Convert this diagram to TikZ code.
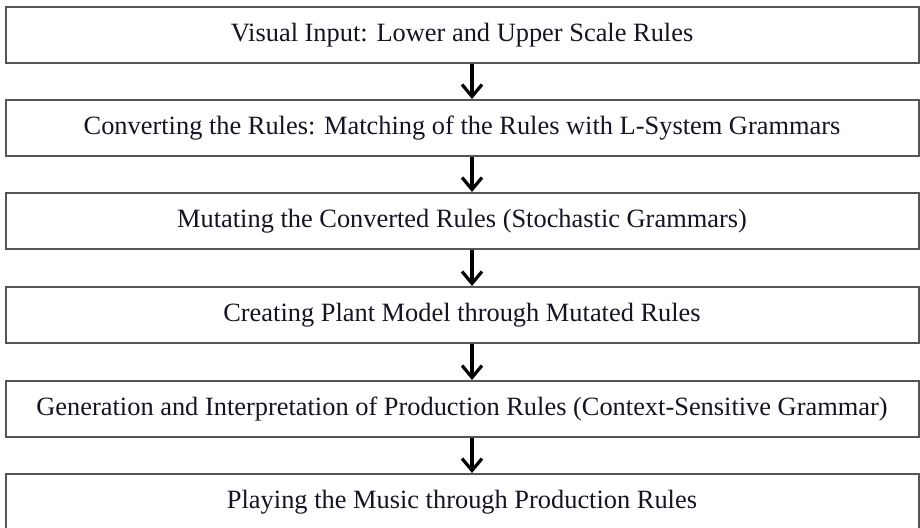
\documentclass[tikz,border=0pt]{standalone}
\usepackage{fontspec}
\setmainfont{Liberation Serif}
\usetikzlibrary{arrows.meta,calc}
\definecolor{boxline}{RGB}{85,85,85}
\definecolor{labeltext}{RGB}{20,20,35}
\tikzset{
  stage/.style={draw=boxline, line width=2pt, minimum width=913pt, minimum height=56pt,
    inner sep=0pt, text=labeltext, font=\fontsize{26.4}{30}\selectfont, anchor=center},
  flow/.style={line width=3.2pt, -{Straight Barb[length=12pt,width=20pt,line width=3.2pt]}}
}
\begin{document}
\begin{tikzpicture}[x=1pt,y=-1pt]
  \useasboundingbox (0,0) rectangle (920,527);
  \node[stage] (s1) at (462,35)  {Visual Input: Lower and Upper Scale Rules};
  \node[stage] (s2) at (462,128) {Converting the Rules: Matching of the Rules with L-System Grammars};
  \node[stage] (s3) at (462,221) {Mutating the Converted Rules (Stochastic Grammars)};
  \node[stage] (s4) at (462,315) {Creating Plant Model through Mutated Rules};
  \node[stage] (s5) at (462,409) {Generation and Interpretation of Production Rules (Context-Sensitive Grammar)};
  \node[stage] (s6) at (462,502) {Playing the Music through Production Rules};
  \coordinate (ax) at (472,0);
  \foreach \a/\b in {s1/s2,s2/s3,s3/s4,s4/s5,s5/s6}
    \draw[flow] (\a.south -| ax) -- (\b.north -| ax);
\end{tikzpicture}
\end{document}
